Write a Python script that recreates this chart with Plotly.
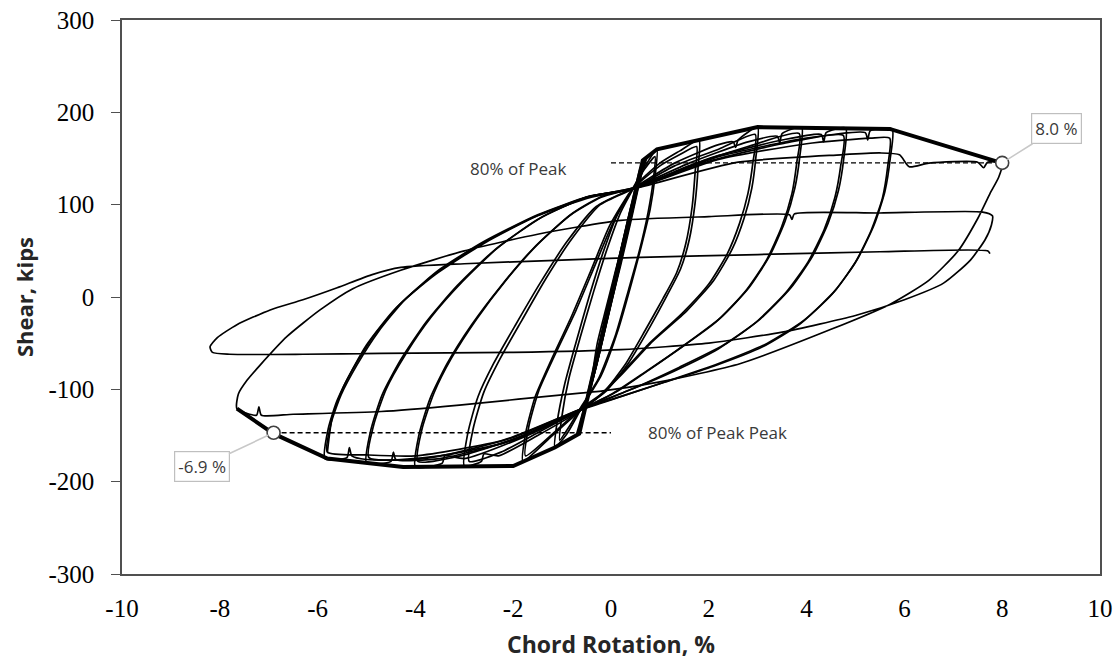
import plotly.graph_objects as go

# ---------------- hysteresis loops (chord rotation %, shear kips) ----------------
# each loop: positive peak -> unloading arc -> negative peak -> reloading arc -> back to peak
elastic_1 = [(-0.38, -85), (-0.2, -45), (0.0, -5), (0.2, 40), (0.4, 85), (0.3, 70), (0.1, 30), (-0.1, -12), (-0.28, -50), (-0.38, -85)]
elastic_2 = [(-0.55, -122), (-0.35, -85), (-0.12, -35), (0.08, 10), (0.3, 62), (0.52, 112), (0.42, 100), (0.2, 50), (-0.02, 0), (-0.25, -55), (-0.45, -100), (-0.55, -122)]
elastic_3 = [(-0.7, -148), (-0.5, -112), (-0.3, -75), (-0.08, -25), (0.12, 20), (0.35, 72), (0.55, 118), (0.7, 150), (0.6, 140), (0.4, 95), (0.18, 45), (-0.05, -8), (-0.28, -60), (-0.5, -110), (-0.7, -148)]
elastic_4 = [(-0.66, -145), (-0.45, -105), (-0.24, -62), (-0.02, -12), (0.2, 35), (0.42, 85), (0.62, 132), (0.74, 152), (0.66, 146), (0.47, 108), (0.26, 58), (0.04, 8), (-0.2, -45), (-0.42, -98), (-0.66, -145)]

cycle_1a = [(0.94, 160), (0.9, 130), (0.8, 95), (0.62, 55), (0.42, 15), (0.15, -35), (-0.2, -85), (-0.6, -120), (-0.9, -148), (-1.15, -163),
            (-1.1, -135), (-0.95, -95), (-0.72, -50), (-0.45, 0), (-0.15, 50), (0.15, 92), (0.45, 118), (0.7, 142), (0.94, 160)]
cycle_1b = [(0.9, 152), (0.86, 125), (0.76, 92), (0.58, 50), (0.36, 8), (0.1, -40), (-0.25, -88), (-0.6, -118), (-0.85, -140), (-1.05, -155),
            (-1.0, -128), (-0.86, -88), (-0.62, -42), (-0.36, 5), (-0.08, 52), (0.2, 92), (0.45, 117), (0.68, 138), (0.9, 152)]

cycle_2a = [(1.8, 170), (1.78, 140), (1.72, 102), (1.6, 62), (1.42, 30), (1.15, 2), (0.8, -32), (0.35, -72), (-0.1, -102), (-0.6, -122),
            (-1.2, -150), (-1.8, -178), (-1.74, -146), (-1.55, -108), (-1.22, -68), (-0.8, -20), (-0.4, 30), (-0.02, 78), (0.45, 118),
            (1.0, 145), (1.4, 158), (1.8, 170)]
cycle_2b = [(1.75, 163), (1.72, 135), (1.66, 98), (1.53, 58), (1.34, 26), (1.06, -2), (0.7, -36), (0.28, -74), (-0.15, -103), (-0.6, -120),
            (-1.15, -146), (-1.75, -172), (-1.68, -140), (-1.48, -102), (-1.14, -62), (-0.72, -15), (-0.33, 34), (0.04, 80), (0.45, 117),
            (1.0, 142), (1.4, 154), (1.75, 163)]

cycle_3a = [(3.0, 184), (2.96, 150), (2.88, 118), (2.72, 85), (2.48, 52), (2.1, 18), (1.55, -15), (0.85, -48), (0.2, -85), (-0.25, -108),
            (-0.6, -122), (-1.5, -150), (-2.3, -172), (-2.6, -170), (-2.65, -178), (-3.0, -183), (-2.93, -148), (-2.72, -108), (-2.4, -72),
            (-1.95, -30), (-1.45, 15), (-0.9, 60), (-0.3, 98), (0.45, 118), (1.3, 145), (2.2, 165), (2.5, 168), (2.55, 162), (2.6, 170), (3.0, 184)]
cycle_3b = [(2.95, 176), (2.9, 145), (2.8, 112), (2.63, 80), (2.38, 47), (2.0, 14), (1.45, -18), (0.75, -52), (0.12, -88), (-0.3, -110),
            (-0.6, -121), (-1.5, -147), (-2.25, -168), (-2.9, -178), (-2.82, -143), (-2.6, -103), (-2.27, -67), (-1.82, -25), (-1.33, 20),
            (-0.8, 63), (-0.22, 100), (0.45, 117), (1.3, 142), (2.2, 160), (2.95, 176)]

cycle_4a = [(3.9, 184), (3.86, 152), (3.76, 118), (3.56, 82), (3.25, 45), (2.82, 10), (2.25, -22), (1.5, -52), (0.75, -80), (0.1, -103),
            (-0.6, -122), (-1.8, -152), (-3.0, -175), (-3.4, -172), (-3.45, -180), (-4.0, -184), (-3.93, -150), (-3.7, -110), (-3.35, -72),
            (-2.85, -30), (-2.25, 12), (-1.6, 52), (-0.85, 88), (-0.2, 108), (0.45, 118), (1.6, 145), (2.8, 168), (3.4, 174), (3.45, 167),
            (3.5, 177), (3.9, 184)]
cycle_4b = [(3.85, 177), (3.8, 146), (3.7, 112), (3.49, 76), (3.17, 39), (2.73, 5), (2.15, -27), (1.4, -56), (0.65, -83), (0.02, -105),
            (-0.6, -121), (-1.8, -150), (-3.0, -171), (-3.95, -178), (-3.87, -144), (-3.62, -104), (-3.26, -66), (-2.75, -24), (-2.15, 18),
            (-1.5, 57), (-0.78, 91), (-0.15, 110), (0.45, 117), (1.6, 142), (2.8, 163), (3.85, 177)]

cycle_5a = [(4.8, 183), (4.76, 150), (4.65, 115), (4.44, 80), (4.12, 44), (3.68, 10), (3.05, -24), (2.3, -52), (1.4, -76), (0.5, -98),
            (-0.6, -122), (-2.0, -155), (-3.5, -175), (-4.4, -176), (-4.45, -168), (-4.5, -178), (-5.0, -180), (-4.92, -146), (-4.68, -106),
            (-4.3, -68), (-3.78, -27), (-3.15, 12), (-2.4, 50), (-1.5, 84), (-0.5, 108), (0.45, 118), (2.0, 150), (3.5, 170), (4.3, 176),
            (4.35, 168), (4.4, 178), (4.8, 183)]
cycle_5b = [(4.75, 175), (4.7, 143), (4.58, 108), (4.36, 73), (4.03, 38), (3.58, 5), (2.95, -28), (2.2, -56), (1.3, -80), (0.42, -100),
            (-0.6, -121), (-2.0, -152), (-3.5, -172), (-4.95, -174), (-4.86, -140), (-4.6, -100), (-4.2, -62), (-3.68, -22), (-3.05, 16),
            (-2.3, 54), (-1.4, 87), (-0.45, 109), (0.45, 117), (2.0, 147), (3.5, 166), (4.75, 175)]

cycle_6a = [(5.75, 182), (5.71, 150), (5.6, 114), (5.38, 78), (5.05, 42), (4.6, 8), (3.95, -25), (3.2, -50), (2.2, -72), (1.1, -92),
            (0.2, -108), (-0.6, -122), (-2.2, -158), (-4.0, -176), (-5.0, -176), (-5.3, -172), (-5.35, -163), (-5.4, -174), (-5.85, -175),
            (-5.78, -142), (-5.6, -112), (-5.3, -80), (-4.85, -42), (-4.3, -7), (-3.6, 25), (-2.7, 56), (-1.6, 86), (-0.5, 108), (0.45, 118),
            (2.2, 152), (4.0, 172), (5.2, 178), (5.25, 170), (5.3, 180), (5.75, 182)]
cycle_6b = [(5.7, 172), (5.66, 142), (5.55, 107), (5.32, 72), (4.98, 36), (4.52, 3), (3.87, -29), (3.1, -54), (2.1, -75), (1.0, -94),
            (0.12, -109), (-0.6, -121), (-2.2, -155), (-4.0, -172), (-5.0, -171), (-5.8, -168), (-5.72, -136), (-5.52, -106), (-5.2, -74),
            (-4.75, -37), (-4.2, -2), (-3.5, 30), (-2.6, 60), (-1.5, 89), (-0.45, 109), (0.45, 117), (2.2, 149), (4.0, 166), (5.3, 172), (5.7, 172)]

# final large-drift excursions with strength degradation
cycle_8 = [(-5.8, -168), (-5.7, -130), (-5.45, -95), (-5.0, -52), (-4.4, -12), (-3.6, 24), (-2.6, 58), (-1.5, 88), (-0.4, 108), (0.45, 117),
           (2.6, 146), (4.7, 154), (5.5, 156), (5.9, 154), (6.1, 141), (6.5, 145), (7.5, 146), (7.62, 140), (7.7, 146), (8.0, 145),
           (7.93, 130), (7.75, 112), (7.5, 85), (7.1, 50), (6.5, 18), (5.7, -8), (4.5, -35), (2.65, -72), (1.0, -92), (-0.2, -102),
           (-0.63, -104), (-3.1, -117), (-4.7, -124), (-6.5, -127), (-7.15, -128), (-7.2, -119), (-7.25, -128), (-7.65, -121),
           (-7.62, -105), (-7.44, -90), (-7.18, -74), (-6.63, -43), (-5.95, -14), (-5.28, 9), (-4.3, 29), (-3.0, 50), (-1.5, 68),
           (0.2, 83), (2.0, 87), (3.65, 89), (3.7, 84), (3.75, 90), (5.5, 91), (7.6, 92), (7.8, 88),
           (7.78, 78), (7.65, 62), (7.35, 40), (6.8, 15), (6.0, -3), (5.0, -20), (3.5, -38), (2.0, -50), (0.2, -57), (-2.0, -60),
           (-4.7, -61), (-6.3, -62), (-7.8, -62), (-8.15, -60), (-8.2, -54), (-8.05, -44), (-7.65, -30), (-6.97, -14), (-6.3, -3),
           (-5.6, 10), (-4.9, 24), (-4.3, 32), (-3.0, 36), (-1.0, 40), (0.6, 43), (3.0, 46), (5.5, 49), (7.7, 50), (7.75, 47)]

loops = [elastic_1, elastic_2, elastic_3, elastic_4, cycle_1a, cycle_1b, cycle_2a, cycle_2b, cycle_3a, cycle_3b,
         cycle_4a, cycle_4b, cycle_5a, cycle_5b, cycle_6a, cycle_6b, cycle_8]

# backbone envelope through the peaks
backbone_x = [-7.65, -6.9, -5.8, -4.25, -2.0, -1.15, -0.65, 0.0, 0.65, 0.94, 3.0, 5.7, 8.0]
backbone_y = [-121, -148, -175, -184, -183, -163, -148, 0, 148, 160, 184, 182, 145]

# 80% of peak strength and the drifts where the envelope crosses it
pos_80_x = [0.0, 8.0]
pos_80_y = [145.3, 145.3]
neg_80_x = [-6.9, 0.0]
neg_80_y = [-147, -147]
ultimate_x = [8.0, -6.9]
ultimate_y = [145.3, -147]
ultimate_labels = ["8.0 %", "-6.9 %"]

x_ticks = [-10, -8, -6, -4, -2, 0, 2, 4, 6, 8, 10]
x_tick_text = ["-10", "-8", "-6", "-4", "-2", "0", "2", "4", "6", "8", "10"]
y_ticks = [-300, -200, -100, 0, 100, 200, 300]
y_tick_text = ["-300", "-200", "-100", "0", "100", "200", "300"]

fig = go.Figure()

for lp in loops:
    fig.add_trace(go.Scatter(
        x=[p[0] for p in lp], y=[p[1] for p in lp], mode="lines",
        line=dict(color="black", width=1.7, shape="spline", smoothing=0.6),
        hoverinfo="skip", showlegend=False))

fig.add_trace(go.Scatter(x=backbone_x, y=backbone_y, mode="lines",
                         line=dict(color="black", width=4), showlegend=False))

for xs, ys in [(pos_80_x, pos_80_y), (neg_80_x, neg_80_y)]:
    fig.add_trace(go.Scatter(x=xs, y=ys, mode="lines",
                             line=dict(color="black", width=1.4, dash="5px,3px"), showlegend=False))

fig.add_trace(go.Scatter(x=ultimate_x, y=ultimate_y, mode="markers",
                         marker=dict(size=13, color="white", line=dict(color="#404040", width=1.6)),
                         showlegend=False))

label_font = dict(family="Open Sans", size=17, color="#3a3a3a")
fig.add_annotation(x=-1.9, y=139, text="80% of Peak", showarrow=False, font=label_font)
fig.add_annotation(x=0.72, y=-147, text="80% of Peak Peak", showarrow=False, xanchor="left", font=label_font)

offsets = [(54, -34), (-72, 34)]
for xv, yv, txt, (ax, ay) in zip(ultimate_x, ultimate_y, ultimate_labels, offsets):
    fig.add_annotation(x=xv, y=yv, text=txt, showarrow=True, arrowhead=0, arrowwidth=1.6,
                       arrowcolor="#c8c8c8", ax=ax, ay=ay, standoff=6,
                       font=label_font, bgcolor="white", bordercolor="#bfbfbf",
                       borderwidth=1.2, borderpad=3)

fig.add_annotation(x=0, y=0.5, xref="paper", yref="paper", text="<b>Shear, kips</b>",
                   textangle=-90, showarrow=False, xanchor="center", yanchor="middle",
                   xshift=-98, font=dict(family="Open Sans", size=22, color="#262626"))
fig.add_annotation(x=0.5, y=0, xref="paper", yref="paper", text="<b>Chord Rotation, %</b>",
                   showarrow=False, xanchor="center", yanchor="middle", yshift=-70,
                   font=dict(family="Open Sans", size=23, color="#262626"))

tick_font = dict(family="Liberation Serif", size=25, color="black")
fig.update_xaxes(range=[-10, 10], tickvals=x_ticks, ticktext=x_tick_text, ticks="", showgrid=False,
                 zeroline=False, showline=True, linecolor="#505050", linewidth=1.5, mirror=True,
                 tickfont=tick_font, ticklabelstandoff=11, automargin=False)
fig.update_yaxes(range=[-300, 300], tickvals=y_ticks, ticktext=y_tick_text, ticks="outside", ticklen=9,
                 tickwidth=1.3, tickcolor="#505050", showgrid=False, zeroline=False,
                 showline=True, linecolor="#505050", linewidth=1.5, mirror=True,
                 tickfont=tick_font, ticklabelstandoff=12, automargin=False)

fig.update_layout(width=1119, height=659, margin=dict(l=122, r=19, t=20, b=85),
                  plot_bgcolor="white", paper_bgcolor="white", showlegend=False)

fig.write_html("out.html")
